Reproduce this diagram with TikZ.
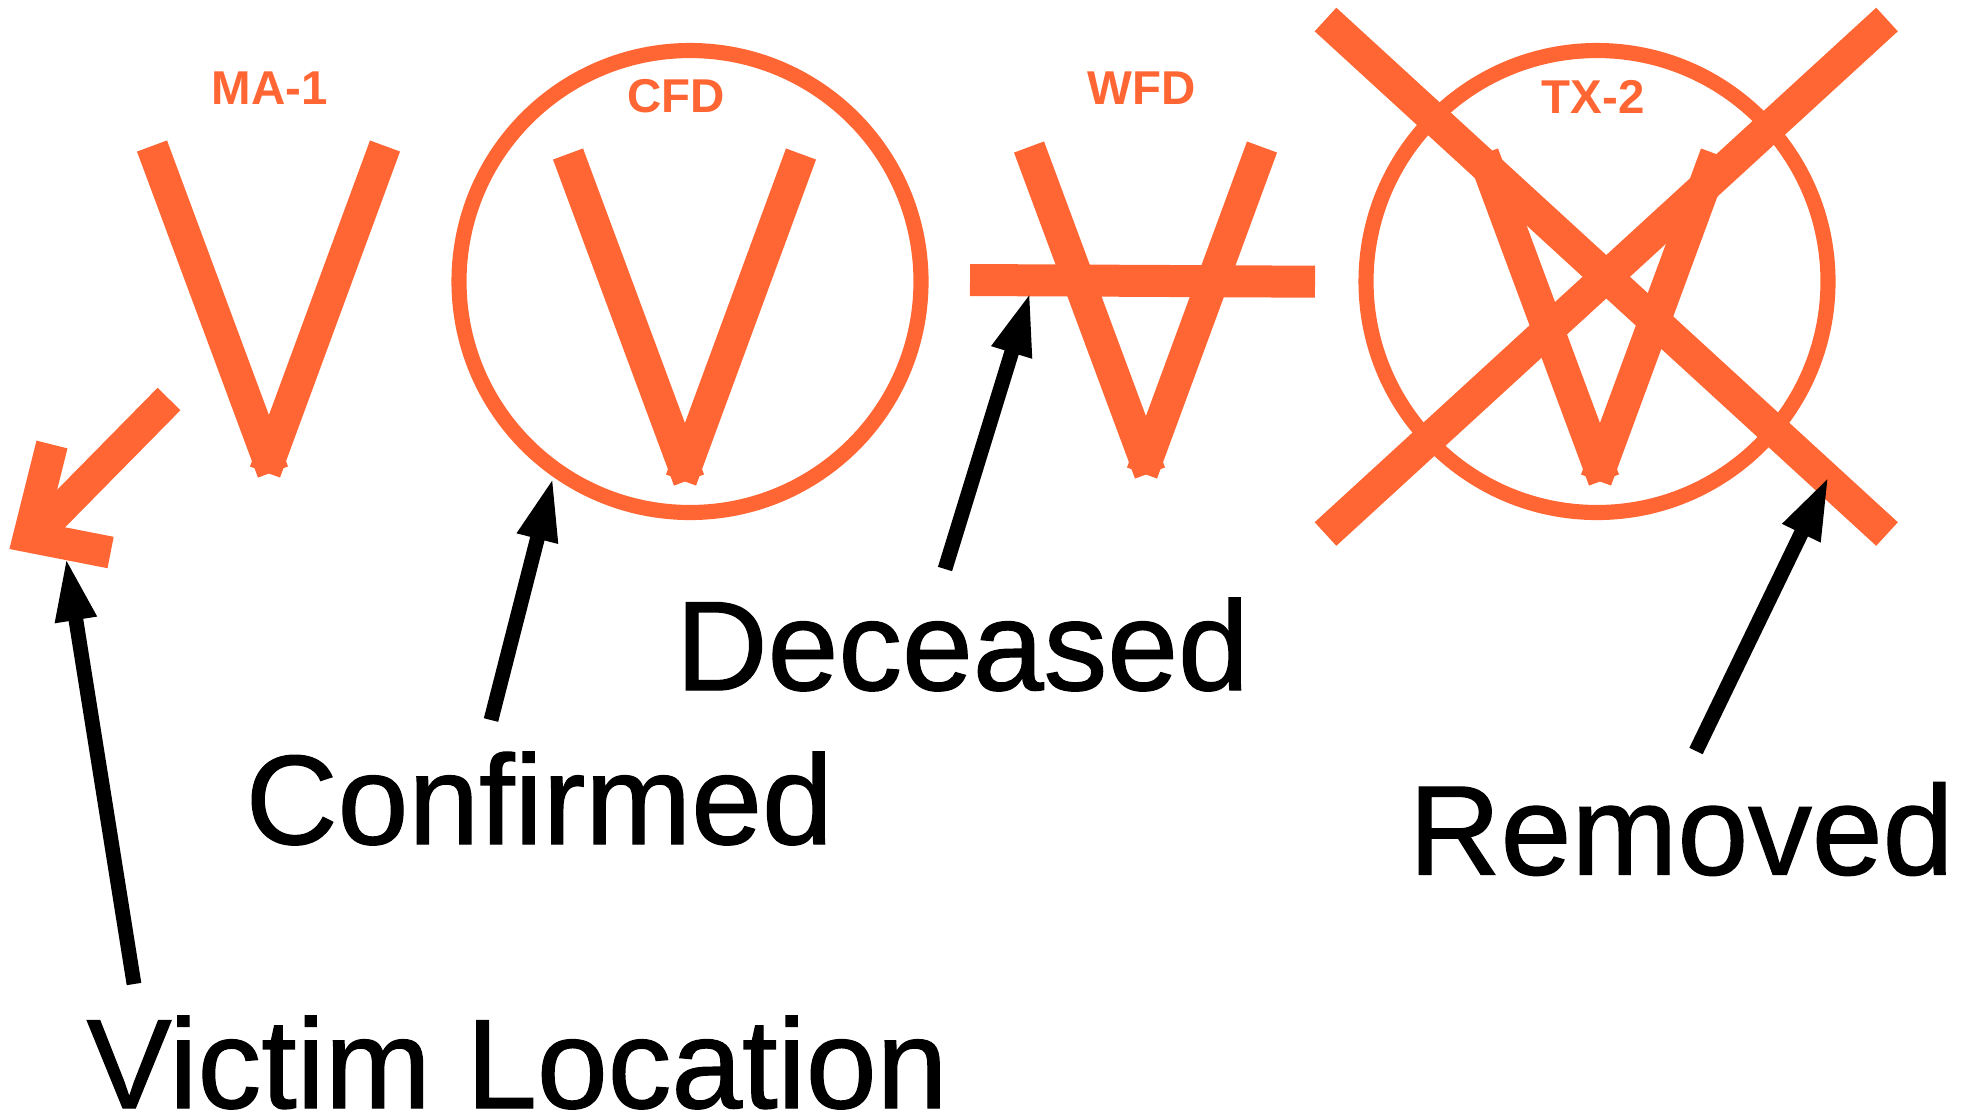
\documentclass[tikz,border=0pt]{standalone}
\usepackage{fontspec}
\setmainfont{Liberation Sans}
\newfontfamily\legendfont[FakeBold=1]{Liberation Sans}
\usetikzlibrary{arrows.meta}
\definecolor{marker}{HTML}{FF6633}
\tikzstyle{symbol}=[draw=marker, line width=9.1pt]
\tikzstyle{ring}=[draw=marker, line width=4.3pt]
\tikzstyle{pointer}=[draw, line width=4.2pt, shorten >=-1.4pt, -{Triangle[length=18.2pt,width=10.8pt]}]
\tikzstyle{callsign}=[text=marker, font=\fontsize{13.5}{15}\selectfont\bfseries, anchor=base west, inner sep=0pt]
\tikzstyle{legendword}=[font=\fontsize{36.2}{40}\legendfont, anchor=base west, inner sep=0pt]

\begin{document}
\begin{tikzpicture}[x=0.01cm, y=-0.01cm]
    \useasboundingbox (0,0) rectangle (1970,1114);

    % Four victim marks
    \foreach \x/\y in {0/0, 416/8, 877/1, 1331/8} {
        \draw[symbol] ({152+\x},{146+\y}) -- ({273+\x},{472+\y});
        \draw[symbol] ({385+\x},{146+\y}) -- ({265+\x},{472+\y});
    }
    \foreach \x in {690, 1597}
        \draw[ring] (\x,281.5) circle (231);

    % Cross-outs
    \draw[symbol] (970,280) -- (1315,281.7);
    \draw[symbol] (1325.5,19.5) -- (1887,534);
    \draw[symbol] (1887,19.5) -- (1325.5,534);

    % Location arrow
    \draw[symbol] (169,399) -- (40,530);
    \draw[symbol, miter limit=10] (52,444.5) -- (29,536.5) -- (110.6,552.5);

    % Callsigns
    \foreach \pos/\name/\txt in {
                            {(211,104)/ma/MA-1},
                            {(627,112)/cfd/CFD},
                            {(1087,104.5)/wfd/WFD},
                            {(1541,113)/tx/TX-2}}
        \node[callsign] (\name) at \pos {\txt};

    % Legend words
    \foreach \pos/\name/\txt in {
                            {(86,1108)/victim/Victim Location},
                            {(245,844)/confirmed/Confirmed},
                            {(675,690)/deceased/Deceased},
                            {(1408,874.5)/removed/Removed}}
        \node[legendword] (\name) at \pos {\txt};

    % Arrow ends
    \foreach \pos/\name in {
                            {(134,984)/victimTail},
                            {(66.6,561.6)/victimTip},
                            {(491,720)/confirmedTail},
                            {(552,481.4)/confirmedTip},
                            {(945,569)/deceasedTail},
                            {(1029,296)/deceasedTip},
                            {(1696,751)/removedTail},
                            {(1827,480)/removedTip}}
        \node[coordinate] (\name) at \pos {};

    % Connect words with marks
    \foreach \source/ \dest in {victimTail/victimTip, confirmedTail/confirmedTip,
                                deceasedTail/deceasedTip, removedTail/removedTip}
        \path[pointer] (\source) -- (\dest);

\end{tikzpicture}
\end{document}
